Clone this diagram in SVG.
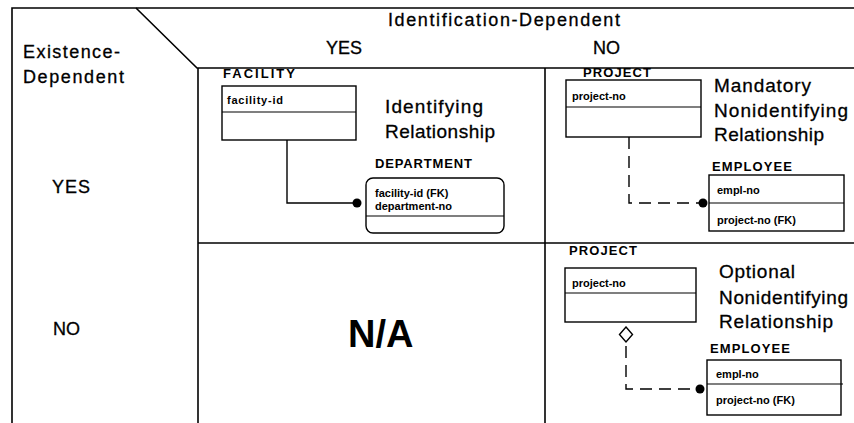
<svg xmlns="http://www.w3.org/2000/svg" width="854" height="423" viewBox="0 0 854 423">
<style>
text{font-family:"Liberation Sans",Arial,sans-serif;fill:#000}
.hd{font-size:18px;stroke:#000;stroke-width:0.3}
.big{font-size:19px;stroke:#000;stroke-width:0.3}
.ent{font-size:13px;font-weight:bold}
.fld{font-size:11px;font-weight:bold}
.frame{fill:none;stroke:#000;stroke-width:1.6}
.box{fill:#fff;stroke:#000;stroke-width:1.4}
.div{stroke:#000;stroke-width:1.2}
.conn{fill:none;stroke:#000;stroke-width:1.4}
.dash{stroke-dasharray:12 7}
</style>
<defs>
<marker id="dot" markerUnits="userSpaceOnUse" viewBox="0 0 10 10" refX="5" refY="5" markerWidth="10" markerHeight="10" orient="0">
<circle cx="5" cy="5" r="4.5" fill="#000"/>
</marker>
<marker id="diamond" markerUnits="userSpaceOnUse" viewBox="0 0 16 18" refX="8" refY="1" markerWidth="16" markerHeight="18" orient="0">
<polygon points="8,1 14.5,8.5 8,16 1.5,8.5" fill="#fff" stroke="#000" stroke-width="1.4"/>
</marker>
</defs>
<rect width="854" height="423" fill="#fff"/>
<g id="grid">
<path class="frame" d="M12,423 V8 H854"/>
<path class="frame" d="M136,8 L197,68 H854"/>
<path class="frame" d="M198,68 V423"/>
<path class="frame" d="M545,68 V423"/>
<path class="frame" d="M198,243 H854"/>
</g>
<g id="headers">
<text class="hd" x="388" y="26" textLength="232" lengthAdjust="spacing">Identification-Dependent</text>
<text class="hd" x="326" y="54">YES</text>
<text class="hd" x="593" y="54">NO</text>
<text class="hd" x="23" y="58" textLength="97" lengthAdjust="spacing">Existence-</text>
<text class="hd" x="23" y="83" textLength="101" lengthAdjust="spacing">Dependent</text>
<text class="hd" x="52" y="193" textLength="38" lengthAdjust="spacing">YES</text>
<text class="hd" x="53" y="335">NO</text>
<text x="348" y="347" style="font-size:38px;font-weight:bold">N/A</text>
</g>
<g id="captions">
<text class="big" x="385" y="113" textLength="98" lengthAdjust="spacing">Identifying</text>
<text class="big" x="385" y="138" textLength="110" lengthAdjust="spacing">Relationship</text>
<text class="big" x="714" y="92" textLength="97" lengthAdjust="spacing">Mandatory</text>
<text class="big" x="714" y="117" textLength="134" lengthAdjust="spacing">Nonidentifying</text>
<text class="big" x="714" y="141" textLength="110" lengthAdjust="spacing">Relationship</text>
<text class="big" x="719" y="278" textLength="76" lengthAdjust="spacing">Optional</text>
<text class="big" x="719" y="304" textLength="129" lengthAdjust="spacing">Nonidentifying</text>
<text class="big" x="719" y="328" textLength="114" lengthAdjust="spacing">Relationship</text>
</g>
<g id="connectors">
<path class="conn" d="M287,140 V203 H357" marker-end="url(#dot)"/>
<path class="conn dash" d="M629,137 V203 H703" marker-end="url(#dot)"/>
<path class="conn dash" d="M626,327 V389 H700" marker-start="url(#diamond)" marker-end="url(#dot)"/>
</g>
<g id="facility">
<text class="ent" x="223" y="78" textLength="72" lengthAdjust="spacing">FACILITY</text>
<rect class="box" x="222" y="86" width="134" height="54"/>
<line class="div" x1="222" y1="112" x2="356" y2="112"/>
<text class="fld" x="227" y="104" textLength="56" lengthAdjust="spacing">facility-id</text>
</g>
<g id="department">
<text class="ent" x="375" y="168" textLength="97" lengthAdjust="spacing">DEPARTMENT</text>
<rect class="box" x="366" y="178" width="138" height="55" rx="7"/>
<line class="div" x1="366" y1="216" x2="504" y2="216"/>
<text class="fld" x="375" y="197">facility-id (FK)</text>
<text class="fld" x="375" y="210">department-no</text>
</g>
<g id="project-mandatory">
<text class="ent" x="583" y="77" textLength="68" lengthAdjust="spacing">PROJECT</text>
<rect class="box" x="566" y="80" width="135" height="57"/>
<line class="div" x1="566" y1="107" x2="701" y2="107"/>
<text class="fld" x="572" y="100">project-no</text>
</g>
<g id="employee-mandatory">
<text class="ent" x="712" y="171" textLength="80" lengthAdjust="spacing">EMPLOYEE</text>
<rect class="box" x="709" y="175" width="135" height="56"/>
<line class="div" x1="709" y1="203" x2="844" y2="203"/>
<text class="fld" x="717" y="194">empl-no</text>
<text class="fld" x="717" y="224">project-no (FK)</text>
</g>
<g id="project-optional">
<text class="ent" x="569" y="255" textLength="68" lengthAdjust="spacing">PROJECT</text>
<rect class="box" x="565" y="268" width="131" height="54"/>
<line class="div" x1="565" y1="293" x2="696" y2="293"/>
<text class="fld" x="572" y="287">project-no</text>
</g>
<g id="employee-optional">
<text class="ent" x="710" y="353" textLength="80" lengthAdjust="spacing">EMPLOYEE</text>
<rect class="box" x="707" y="360" width="134" height="55"/>
<line class="div" x1="707" y1="384" x2="843" y2="384"/>
<text class="fld" x="716" y="378">empl-no</text>
<text class="fld" x="716" y="404">project-no (FK)</text>
</g>
</svg>
